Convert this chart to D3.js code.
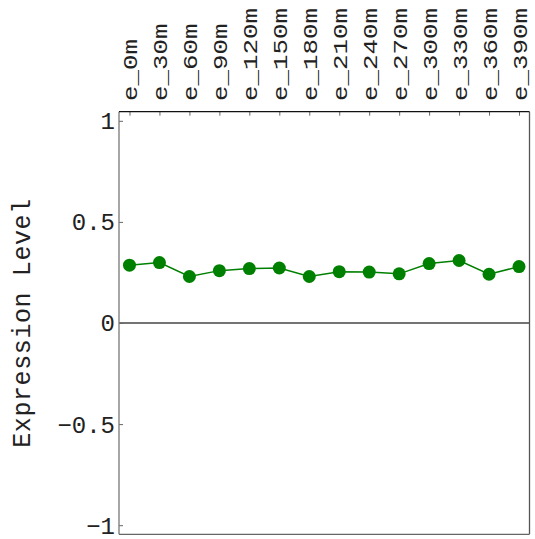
<!DOCTYPE html>
<html>
<head>
<meta charset="utf-8">
<script src="https://cdn.jsdelivr.net/npm/d3@7/dist/d3.min.js"></script>
<style>
  html, body { margin: 0; padding: 0; background: #fff; }
  svg { display: block; }
  text { font-family: "Liberation Mono", "Cousine", monospace; fill: #222; }
</style>
</head>
<body>
<svg id="chart" width="535" height="539"></svg>
<script>
// Time-course samples and their expression levels
const categories = ["e_0m", "e_30m", "e_60m", "e_90m", "e_120m", "e_150m", "e_180m",
                    "e_210m", "e_240m", "e_270m", "e_300m", "e_330m", "e_360m", "e_390m"];
const expression = [0.286, 0.299, 0.230, 0.259, 0.269, 0.272, 0.230,
                    0.254, 0.252, 0.243, 0.294, 0.309, 0.241, 0.279];
const yTicks = [-1, -0.5, 0, 0.5, 1];
const yTickLabels = ["\u22121", "\u22120.5", "0", "0.5", "1"];
const yTitle = "Expression Level";

const svg = d3.select("#chart");
const plotLeft = 119, plotRight = 529.5, plotTop = 111.7, plotBottom = 534.3;

const x = d3.scalePoint().domain(categories).range([plotLeft, plotRight]).padding(0.35);
const y = d3.scaleLinear().domain([-1.045, 1.045]).range([plotBottom, plotTop]);

// Zero reference line
svg.append("line")
  .attr("x1", plotLeft).attr("x2", plotRight)
  .attr("y1", y(0)).attr("y2", y(0))
  .attr("stroke", "#444").attr("stroke-width", 1.3);

// Left axis with inward ticks
const yAxis = d3.axisRight(y).tickValues(yTicks).tickSize(4).tickFormat("");
const gy = svg.append("g").attr("transform", `translate(${plotLeft},0)`).call(yAxis);
gy.select(".domain").remove();
gy.selectAll(".tick line").attr("stroke", "#666");

// Top axis ticks at each sample
const xAxis = d3.axisBottom(x).tickSize(4).tickFormat("");
const gx = svg.append("g").attr("transform", `translate(0,${plotTop})`).call(xAxis);
gx.select(".domain").remove();
gx.selectAll(".tick line").attr("stroke", "#666");

// Frame
svg.append("line").attr("x1", plotLeft).attr("x2", plotLeft).attr("y1", plotTop).attr("y2", plotBottom)
  .attr("stroke", "#777").attr("stroke-width", 1.3);
svg.append("line").attr("x1", plotRight).attr("x2", plotRight).attr("y1", plotTop).attr("y2", plotBottom)
  .attr("stroke", "#555").attr("stroke-width", 1.3);
svg.append("line").attr("x1", plotLeft).attr("x2", plotRight).attr("y1", plotBottom).attr("y2", plotBottom)
  .attr("stroke", "#666").attr("stroke-width", 1.3);
svg.append("line").attr("x1", plotLeft).attr("x2", plotRight).attr("y1", plotTop).attr("y2", plotTop)
  .attr("stroke", "#111").attr("stroke-width", 1.3);

// Y tick labels
svg.append("g").selectAll("text")
  .data(yTicks)
  .join("text")
  .attr("x", 115)
  .attr("y", d => y(d))
  .attr("dy", "0.35em")
  .attr("text-anchor", "end")
  .style("font-size", "24px")
  .text((d, i) => yTickLabels[i]);

// Rotated sample labels above the plot
svg.append("g").selectAll("g")
  .data(categories)
  .join("g")
  .attr("transform", d => `translate(${x(d)},101) rotate(-90)`)
  .append("text")
  .attr("transform", "scale(1.23,1)")
  .attr("dy", "0.36em")
  .style("font-size", "21px")
  .text(d => d);

// Y axis title
svg.append("text")
  .attr("transform", "translate(30,323) rotate(-90)")
  .attr("text-anchor", "middle")
  .style("font-size", "25px")
  .style("letter-spacing", "0.6px")
  .text(yTitle);

// Series line and markers
const line = d3.line().x((d, i) => x(categories[i])).y(d => y(d));
svg.append("path")
  .datum(expression)
  .attr("d", line)
  .attr("fill", "none")
  .attr("stroke", "#008000")
  .attr("stroke-width", 1.5);

svg.append("g").selectAll("circle")
  .data(expression)
  .join("circle")
  .attr("cx", (d, i) => x(categories[i]))
  .attr("cy", d => y(d))
  .attr("r", 6.5)
  .attr("fill", "#008000");
</script>
</body>
</html>
